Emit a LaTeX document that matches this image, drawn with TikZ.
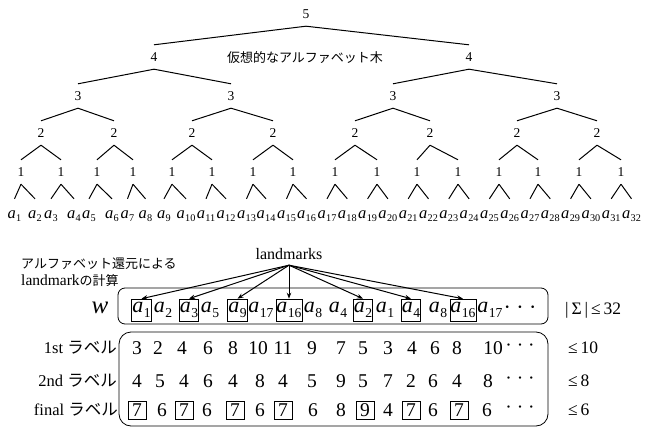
\documentclass[tikz,border=0pt]{standalone}
\usepackage{fontspec}
\setmainfont{Liberation Serif}
\newfontfamily\jp{Noto Sans CJK JP}
\usepackage{graphicx}
\usetikzlibrary{arrows.meta}
\newcommand\subx[2]{\textit{#1}\kern0.02em\raisebox{-0.22em}{\scalebox{0.62}{#2}}}
\newcommand\tdots{·\hspace{0.25em}·\hspace{0.25em}·}
\begin{document}
\begin{tikzpicture}[x=1pt,y=-1pt,
  tn/.style={font=\fontsize{13.5}{13.5}\selectfont, inner sep=0pt, minimum height=24pt},
  edge/.style={line width=1pt},
  leaf/.style={font=\fontsize{16.5}{16.5}\selectfont, inner sep=0pt, minimum height=34pt},
  wa/.style={font=\fontsize{22}{22}\selectfont, inner sep=0.3pt},
  wbox/.style={wa, draw, line width=0.6pt, minimum height=22pt, inner sep=0.6pt},
  num/.style={font=\fontsize{19.5}{19.5}\selectfont, inner sep=0pt},
  nbox/.style={num, draw, line width=0.6pt, minimum size=18pt},
  lab/.style={font=\fontsize{16.5}{16.5}\selectfont, inner sep=0pt, anchor=east},
  rlab/.style={font=\fontsize{17.5}{17.5}\selectfont, inner sep=0pt, anchor=west},
  jpt/.style={font=\fontsize{13}{13}\selectfont\jp, inner sep=0pt},
  arr/.style={line width=1pt, -{Stealth[length=6pt,width=4.5pt]}},
  frame/.style={line width=0.8pt}
]
\useasboundingbox (0,0) rectangle (648,428);

% ---------- tree ----------
\node[tn] (t5) at (306,14) {5};
\foreach \x [count=\i] in {154,469} \node[tn] (t4-\i) at (\x,57) {4};
\foreach \x [count=\i] in {78,231,393,557} \node[tn] (t3-\i) at (\x,96) {3};
\foreach \x [count=\i] in {41,114,192,273,355,430,517,597} \node[tn] (t2-\i) at (\x,133) {2};
\foreach \x [count=\i] in {21,61,97,133,172,212,253,293,335,377,417,458,499,538,579,621}
  \node[tn] (t1-\i) at (\x,172) {1};
\foreach \x [count=\i] in {14.5,35,51,74,89,112,127.5,145.5,164,186,206,226,246.5,266,286.5,306.5,
  327,347.3,367.6,387.9,408.2,428.5,448.8,469.1,489.4,509.7,530,550.3,570.6,590.9,611.2,631.5}
  \node[leaf] (l-\i) at (\x,216) {\subx{a}{\i}};

\foreach \i in {1,2} \draw[edge] (t5.south) -- (t4-\i.north);
\foreach \i in {1,...,4} {\pgfmathtruncatemacro\p{(\i+1)/2}\draw[edge] (t4-\p.south) -- (t3-\i.north);}
\foreach \i in {1,...,8} {\pgfmathtruncatemacro\p{(\i+1)/2}\draw[edge] (t3-\p.south) -- (t2-\i.north);}
\foreach \i in {1,...,16} {\pgfmathtruncatemacro\p{(\i+1)/2}\draw[edge] (t2-\p.south) -- (t1-\i.north);}
\foreach \i in {1,...,32} {\pgfmathtruncatemacro\p{(\i+1)/2}\draw[edge] (t1-\p.south) -- (l-\i.north);}

\node[jpt] (title) at (305,58) {仮想的なアルファベット木};

% ---------- landmark computation ----------
\node[jpt, anchor=west] (cap1) at (21,264) {アルファベット還元による};
\node[anchor=west, inner sep=0pt, font=\fontsize{15.5}{15.5}\selectfont] (cap2) at (21,281)
  {landmark{\fontsize{13}{13}\selectfont\jp の計算}};

\node[inner sep=0pt, minimum height=22pt, font=\fontsize{16}{16}\selectfont] (lm) at (289,254) {landmarks};

\node[font=\fontsize{25}{25}\selectfont\itshape, inner sep=0pt] (w) at (100,308) {w};

\draw[frame, rounded corners=7pt] (118,288) rectangle (548,324);

\node[wbox] (w1) at (141.5,310) {\subx{a}{1}};
\node[wa]   (w2) at (163,310) {\subx{a}{2}};
\node[wbox] (w3) at (189,310) {\subx{a}{3}};
\node[wa]   (w4) at (210,310) {\subx{a}{5}};
\node[wbox] (w5) at (237.5,310) {\subx{a}{9}};
\node[wa]   (w6) at (261,310) {\subx{a}{17}};
\node[wbox] (w7) at (289,310) {\subx{a}{16}};
\node[wa]   (w8) at (313,310) {\subx{a}{8}};
\node[wa]   (w9) at (338,310) {\subx{a}{4}};
\node[wbox] (w10) at (363,310) {\subx{a}{2}};
\node[wa]   (w11) at (385,310) {\subx{a}{1}};
\node[wbox] (w12) at (411,310) {\subx{a}{4}};
\node[wa]   (w13) at (438,310) {\subx{a}{8}};
\node[wbox] (w14) at (463,310) {\subx{a}{16}};
\node[wa]   (w15) at (490,310) {\subx{a}{17}};
\node[wa]   (w16) at (520,310) {\tdots};

\foreach \j in {1,3,5,7,10,12,14} \draw[arr] (lm.south) -- (w\j.north);

\node[rlab] (s0) at (565,310) {|\,Σ\,|\,≤\,32};

% ---------- labels ----------
\draw[frame, rounded corners=12pt] (119,332) rectangle (548,426);

\node[lab] (r1) at (117,348) {1st\hspace{0.25em}{\jp ラベル}};
\node[lab] (r2) at (117,381) {2nd\hspace{0.25em}{\jp ラベル}};
\node[lab] (r3) at (118,410) {final\hspace{0.25em}{\jp ラベル}};

\foreach \x/\v [count=\i] in {137/3,158/2,182/4,208/6,233/8,258/10,283/11,312/9,341/7,363/5,388/3,412/4,435/6,457/8,493/10}
  \node[num] (a-\i) at (\x,348) {\v};
\node[num] (a-16) at (520,348) {\tdots};

\foreach \x/\v [count=\i] in {137/4,160/5,184/4,208/6,233/4,260/8,283/4,312/5,341/9,363/5,388/7,411/2,433/6,457/4,488/8}
  \node[num] (b-\i) at (\x,381) {\v};
\node[num] (b-16) at (520,381) {\tdots};

\foreach \x/\v/\s [count=\i] in {137/7/nbox,162/6/num,184/7/nbox,207/6/num,235/7/nbox,260/6/num,283/7/nbox,313/6/num,341/8/num,365/9/nbox,388/4/num,411/7/nbox,433/6/num,459/7/nbox,487/6/num}
  \node[\s] (c-\i) at (\x,410) {\v};
\node[num] (c-16) at (520,410) {\tdots};

\node[rlab] (s1) at (568,348) {≤\,10};
\node[rlab] (s2) at (568,381) {≤\,8};
\node[rlab] (s3) at (568,410) {≤\,6};
\end{tikzpicture}
\end{document}
